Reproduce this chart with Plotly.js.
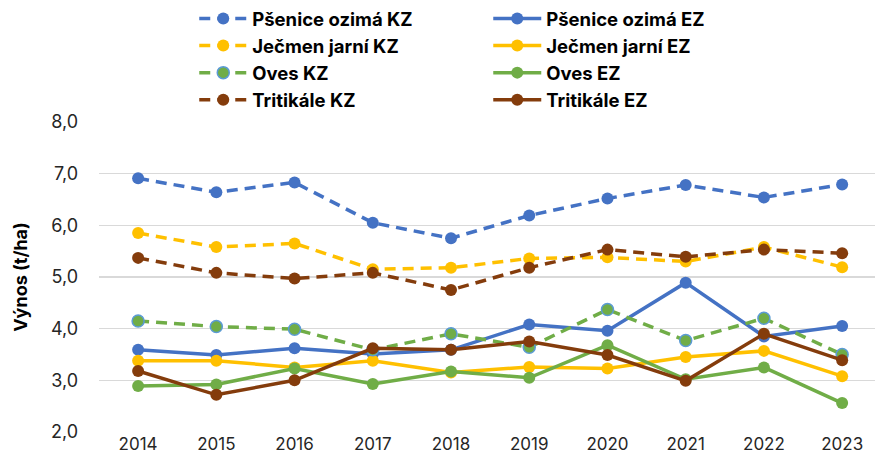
<!DOCTYPE html>
<html>
<head>
<meta charset="utf-8">
<script src="https://cdn.plot.ly/plotly-3.0.1.min.js"></script>
<style>body{margin:0;padding:0;background:#fff}#chart{width:875px;height:467px}</style>
</head>
<body>
<div id="chart"></div>
<script>
const years = ['2014','2015','2016','2017','2018','2019','2020','2021','2022','2023'];
const psenice_KZ = [6.91, 6.64, 6.83, 6.05, 5.75, 6.19, 6.52, 6.78, 6.54, 6.79];
const psenice_EZ = [3.59, 3.49, 3.62, 3.51, 3.59, 4.08, 3.96, 4.89, 3.85, 4.05];
const jecmen_KZ  = [5.85, 5.58, 5.65, 5.15, 5.18, 5.36, 5.38, 5.30, 5.58, 5.19];
const jecmen_EZ  = [3.38, 3.38, 3.25, 3.38, 3.15, 3.26, 3.23, 3.45, 3.57, 3.08];
const oves_KZ    = [4.15, 4.04, 3.99, 3.59, 3.90, 3.64, 4.37, 3.77, 4.20, 3.50];
const oves_EZ    = [2.89, 2.92, 3.23, 2.93, 3.17, 3.05, 3.68, 3.02, 3.25, 2.56];
const trit_KZ    = [5.37, 5.08, 4.97, 5.08, 4.75, 5.18, 5.53, 5.39, 5.53, 5.46];
const trit_EZ    = [3.18, 2.72, 3.00, 3.62, 3.59, 3.75, 3.49, 2.99, 3.90, 3.39];

const blue = '#4472C4', yellow = '#FFC000', green = '#70AD47', brown = '#843C0C';
const dashPat = '11px,7px';

function tr(name, y, color, dashed, markerLine) {
  return {
    type: 'scatter', mode: 'lines+markers', name: name, x: years, y: y,
    line: {color: color, width: 3.5, dash: dashed ? dashPat : 'solid'},
    marker: {color: color, size: 12, line: {color: markerLine || color, width: markerLine ? 1.5 : 0}}
  };
}

const data = [
  tr('Pšenice ozimá KZ', psenice_KZ, blue, true),
  tr('Pšenice ozimá EZ', psenice_EZ, blue, false),
  tr('Ječmen jarní KZ', jecmen_KZ, yellow, true),
  tr('Ječmen jarní EZ', jecmen_EZ, yellow, false),
  tr('Oves KZ', oves_KZ, green, true, '#5B9BD5'),
  tr('Oves EZ', oves_EZ, green, false),
  tr('Tritikále KZ', trit_KZ, brown, true),
  tr('Tritikále EZ', trit_EZ, brown, false)
];

const layout = {
  width: 875, height: 467,
  margin: {l: 99, r: 0, t: 122, b: 35},
  paper_bgcolor: '#fff', plot_bgcolor: '#fff',
  separators: ', ',
  font: {family: 'Inter, "Liberation Sans", sans-serif', color: '#262626', size: 16},
  showlegend: true,
  legend: {
    orientation: 'h', xref: 'container', yref: 'container',
    x: 0.222, xanchor: 'left', y: 1.0, yanchor: 'top',
    entrywidth: 231, entrywidthmode: 'pixels',
    font: {size: 18.5, color: '#000', weight: 'bold', family: 'Inter, "Liberation Sans", sans-serif'},
    tracegroupgap: 0, itemwidth: 48
  },
  xaxis: {
    type: 'category', range: [-0.5, 9.42],
    showgrid: false, showline: false, ticks: '',
    tickfont: {size: 17, color: '#262626'}
  },
  yaxis: {
    range: [2, 8], dtick: 1, tickformat: '.1f',
    showgrid: true, gridcolor: '#D9D9D9', gridwidth: 1.3,
    zeroline: false, showline: false, ticks: '',
    ticklabelstandoff: 20,
    tickfont: {size: 18, color: '#262626'},
    title: {text: 'Výnos (t/ha)', font: {size: 18, weight: 'bold', color: '#000'}, standoff: 18}
  }
};

Plotly.newPlot('chart', data, layout, {displayModeBar: false, staticPlot: true});
</script>
</body>
</html>
